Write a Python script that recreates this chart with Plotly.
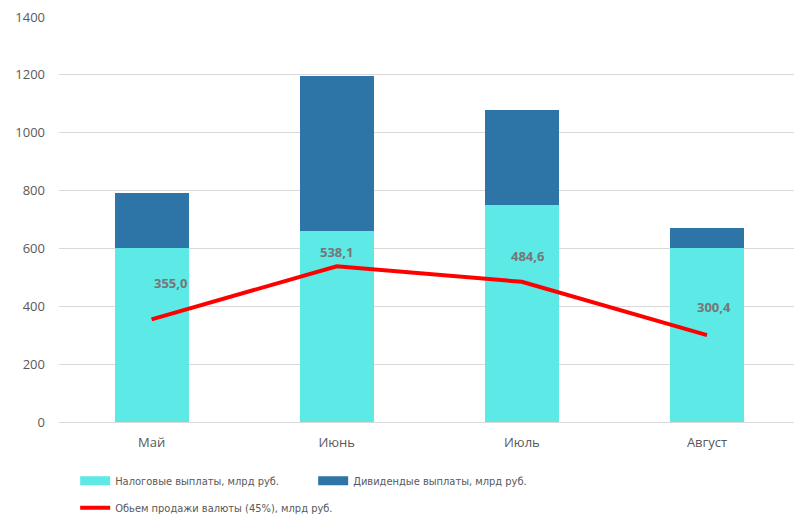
import plotly.graph_objects as go

months = ["Май", "Июнь", "Июль", "Август"]
tax = [603, 659, 749, 601]
dividends = [187, 538, 329, 68]
fx_sales = [355.0, 538.1, 484.6, 300.4]
fx_labels = ["355,0", "538,1", "484,6", "300,4"]

label_shift_x = [19, 0, 6, 7]
label_shift_y = [36, 14, 26, 28]

tax_name = "Налоговые выплаты, млрд руб."
div_name = "Дивидендые выплаты, млрд руб."
fx_name = "Обьем продажи валюты (45%), млрд руб."
tax_color = "#5DE9E6"
div_color = "#2C75A6"

fig = go.Figure()
fig.add_trace(go.Bar(x=months, y=tax, name=tax_name, showlegend=False,
                     marker=dict(color=tax_color, line=dict(width=0))))
fig.add_trace(go.Bar(x=months, y=dividends, name=div_name, showlegend=False,
                     marker=dict(color=div_color, line=dict(width=0))))
fig.add_trace(go.Scatter(x=months, y=fx_sales, mode="lines", name=fx_name,
                         legend="legend2",
                         line=dict(color="#FF0000", width=4)))
# legend-only swatches for the bars (wide rectangles as in the original)
fig.add_trace(go.Scatter(x=[None], y=[None], mode="lines", name=tax_name,
                         line=dict(color=tax_color, width=9), legend="legend"))
fig.add_trace(go.Scatter(x=[None], y=[None], mode="lines", name=div_name,
                         line=dict(color=div_color, width=9), legend="legend"))

for m, v, t, dx, dy in zip(months, fx_sales, fx_labels, label_shift_x, label_shift_y):
    fig.add_annotation(x=m, y=v, text="<b>" + t + "</b>", showarrow=False,
                       xshift=dx, yshift=dy,
                       font=dict(family="Open Sans, Liberation Sans, sans-serif", size=13, color="#767676"))

legfont = dict(family="DejaVu Sans Condensed, Liberation Sans Narrow, Liberation Sans, sans-serif",
               size=11, color="#595959")

fig.update_layout(
    width=794, height=517,
    margin=dict(l=59, r=0, t=17, b=95),
    barmode="stack", bargap=0.6,
    plot_bgcolor="white", paper_bgcolor="white",
    font=dict(family="Open Sans, Liberation Sans, sans-serif", size=13, color="#595959"),
    showlegend=True,
    legend=dict(orientation="h", x=0.022, y=0.098, xanchor="left", yanchor="top",
                xref="paper", yref="container",
                entrywidth=193, entrywidthmode="pixels", traceorder="normal",
                font=legfont, itemwidth=30, bgcolor="rgba(0,0,0,0)"),
    legend2=dict(orientation="h", x=0.022, y=0.046, xanchor="left", yanchor="top",
                 xref="paper", yref="container",
                 font=legfont, itemwidth=30, bgcolor="rgba(0,0,0,0)"),
    xaxis=dict(range=[-0.5, 3.47], showgrid=False, showline=True, linecolor="#D9D9D9",
               linewidth=1, ticks="", ticklabelstandoff=8,
               tickfont=dict(size=13, color="#595959")),
    yaxis=dict(range=[0, 1400], dtick=200, showgrid=True, gridcolor="#D9D9D9",
               gridwidth=1, zeroline=False, showline=False, ticks="",
               ticklabelstandoff=13, tickfont=dict(size=13, color="#595959")),
)

fig.write_html("out.html")
